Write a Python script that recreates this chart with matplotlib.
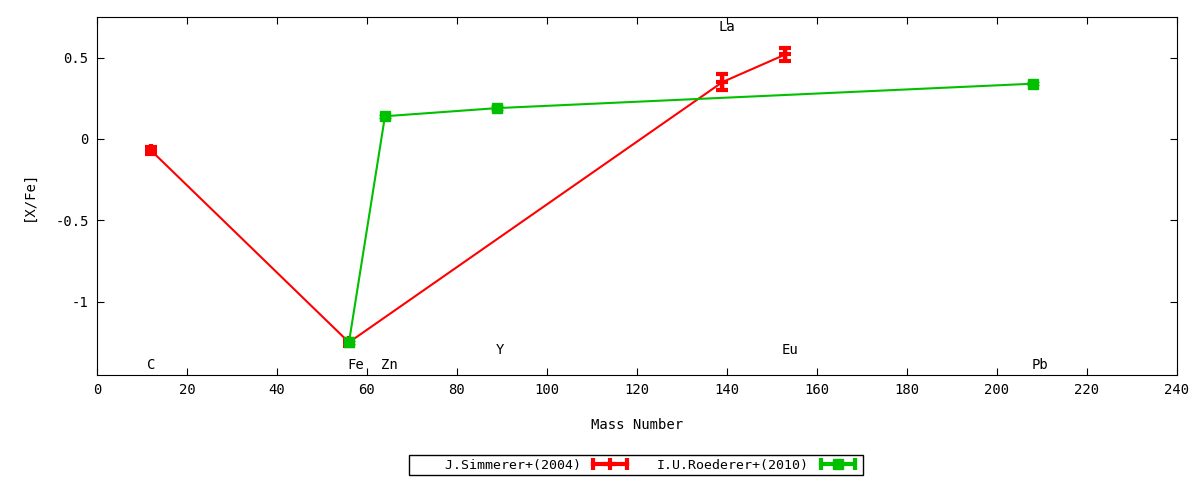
import matplotlib
matplotlib.use("Agg")
import matplotlib.pyplot as plt
from matplotlib.lines import Line2D
from matplotlib.legend_handler import HandlerLine2D, HandlerTuple

# Data
sim_mass = [12, 56, 139, 153]
sim_val = [-0.07, -1.25, 0.35, 0.52]
sim_err = [0.02, 0.02, 0.05, 0.04]

roe_mass = [56, 64, 89, 208]
roe_val = [-1.25, 0.14, 0.19, 0.34]
roe_err = [0.01, 0.01, 0.01, 0.01]

label_names = ["C", "Fe", "Zn", "Y", "La", "Eu", "Pb"]
label_x = [12, 57.5, 65, 89.5, 140, 154, 209.5]
label_y = [-1.39, -1.39, -1.39, -1.30, 0.69, -1.30, -1.39]

RED = '#ff0000'
GREEN = '#00c000'

plt.rcParams['font.family'] = ['DejaVu Sans Mono']
plt.rcParams['font.size'] = 9.5

fig = plt.figure(figsize=(12, 4.8), dpi=100)
ax = fig.add_axes([0.0808, 0.219, 0.9, 0.7456])

ax.errorbar(sim_mass, sim_val, yerr=sim_err, color=RED, lw=1.5,
            marker='+', ms=9, mew=3, capsize=4, capthick=2.5, elinewidth=2.5)
ax.errorbar(roe_mass, roe_val, yerr=roe_err, color=GREEN, lw=1.5,
            marker='s', ms=7, mew=1, capsize=4, capthick=2, elinewidth=2)

for n, x, y in zip(label_names, label_x, label_y):
    ax.text(x, y, n, ha='center', va='center', fontsize=10)

ax.set_xlim(0, 240)
ax.set_ylim(-1.45, 0.75)
ax.set_xticks(range(0, 241, 20))
ax.set_yticks([-1, -0.5, 0, 0.5])
ax.set_yticklabels(['-1', '-0.5', '0', '0.5'])
ax.tick_params(direction='in', top=True, right=True, length=5, pad=6,
               labelsize=10)
ax.set_xlabel('Mass Number', labelpad=15, fontsize=10)
ax.set_ylabel('[X/Fe]', labelpad=14, fontsize=10)

# legend handles: horizontal error-bar style samples
r_bar = Line2D([], [], color=RED, lw=3, marker='|', ms=9, mew=3)
r_mid = Line2D([], [], color=RED, lw=0, marker='+', ms=9, mew=3)
g_bar = Line2D([], [], color=GREEN, lw=3, marker='|', ms=9, mew=3)
g_mid = Line2D([], [], color=GREEN, lw=0, marker='s', ms=7)
leg = fig.legend([(r_bar, r_mid), (g_bar, g_mid)],
                 ['    J.Simmerer+(2004)', 'I.U.Roederer+(2010)'],
                 handler_map={(r_bar, r_mid): HandlerTuple(ndivide=1, pad=0),
                              (g_bar, g_mid): HandlerTuple(ndivide=1, pad=0),
                              r_bar: HandlerLine2D(numpoints=2),
                              g_bar: HandlerLine2D(numpoints=2),
                              r_mid: HandlerLine2D(numpoints=1),
                              g_mid: HandlerLine2D(numpoints=1)},
                 loc='center', bbox_to_anchor=(0.53, 0.031), ncol=2,
                 markerfirst=False, fancybox=False, edgecolor='black',
                 framealpha=1, borderpad=0.25, handlelength=3.2,
                 columnspacing=2.0, handletextpad=0.6, borderaxespad=0)
leg.get_frame().set_linewidth(1)

fig.savefig('out.png', dpi=100)
